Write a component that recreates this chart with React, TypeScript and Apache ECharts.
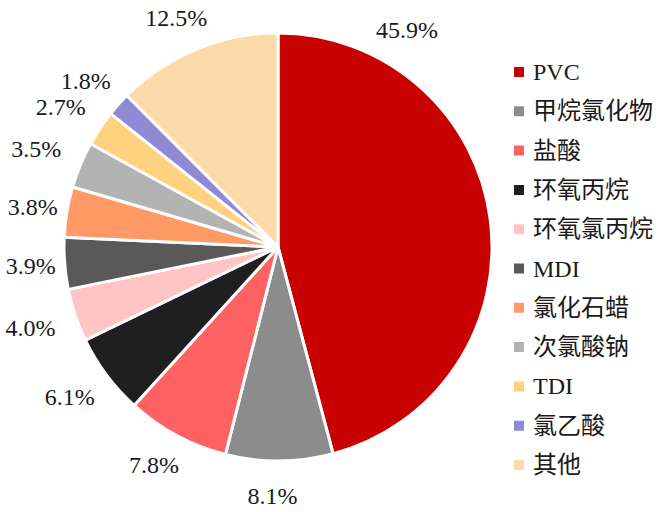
import React, { useEffect, useRef } from 'react';
import * as echarts from 'echarts';

const categories = ['PVC', '甲烷氯化物', '盐酸', '环氧丙烷', '环氧氯丙烷', 'MDI', '氯化石蜡', '次氯酸钠', 'TDI', '氯乙酸', '其他'];
const shares = [45.9, 8.1, 7.8, 6.1, 4.0, 3.9, 3.8, 3.5, 2.7, 1.8, 12.5];
const colors = ['#C80000', '#8C8C8C', '#FF6262', '#1F1F1F', '#FFC4C4', '#595959', '#FF9966', '#B3B3B3', '#FFD27F', '#8F89D6', '#FCDAA9'];

const CX = 278;
const CY = 247;
const R = 214;
const LABEL_GAP = 27;
const LABEL_VERTICAL_EXTRA = 8;
const LABEL_CORNER_EXTRA = 12;
const LABEL_SHIFT_X = -7;
const PVC_LABEL_POS = [407, 30];
const FONT = '"Liberation Serif", "Times New Roman", "Noto Sans CJK SC", serif';

const smooth = (e0: number, e1: number, x: number) => {
  const t = Math.min(1, Math.max(0, (x - e0) / (e1 - e0)));
  return t * t * (3 - 2 * t);
};

export default function App() {
  const ref = useRef<HTMLDivElement>(null);
  useEffect(() => {
    document.body.style.margin = '0';
    const chart = echarts.init(ref.current!, null, { renderer: 'svg' });
    const total = shares.reduce((a, b) => a + b, 0);
    const mids: number[] = [];
    let acc = 0;
    shares.forEach((v) => {
      mids.push(((acc + v / 2) / total) * 2 * Math.PI);
      acc += v;
    });
    chart.setOption({
      animation: false,
      backgroundColor: '#ffffff',
      legend: {
        orient: 'vertical',
        left: 507,
        top: 55,
        icon: 'rect',
        itemWidth: 12,
        itemHeight: 12,
        itemGap: 15.3,
        data: categories,
        textStyle: {
          fontFamily: FONT,
          fontSize: 24,
          lineHeight: 24,
          color: '#1a1a1a',
          padding: [0, 0, 0, 3],
        },
      },
      series: [
        {
          type: 'pie',
          center: [CX, CY],
          radius: R,
          startAngle: 90,
          clockwise: true,
          avoidLabelOverlap: false,
          data: categories.map((name, i) => ({ name, value: shares[i], itemStyle: { color: colors[i] } })),
          itemStyle: { borderColor: '#ffffff', borderWidth: 3 },
          label: {
            show: true,
            position: 'outside',
            formatter: (p: any) => Number(p.value).toFixed(1) + '%',
            fontFamily: FONT,
            fontSize: 24,
            color: '#1a1a1a',
          },
          labelLine: { show: false },
          labelLayout: (p: any) => {
            const i = p.dataIndex;
            if (i === 0) {
              return { x: PVC_LABEL_POS[0], y: PVC_LABEL_POS[1], align: 'center', verticalAlign: 'middle' };
            }
            const a = mids[i];
            const ux = Math.sin(a);
            const uy = -Math.cos(a);
            const ay = Math.abs(uy);
            const d =
              R +
              LABEL_GAP +
              LABEL_VERTICAL_EXTRA * uy * uy +
              LABEL_CORNER_EXTRA * smooth(0.15, 0.3, ay) * (1 - smooth(0.45, 0.8, ay));
            return {
              x: CX + d * ux + LABEL_SHIFT_X,
              y: CY + d * uy,
              align: 'center',
              verticalAlign: 'middle',
            };
          },
        },
      ],
    });
    return () => chart.dispose();
  }, []);
  return <div ref={ref} style={{ width: 659, height: 512 }} />;
}
